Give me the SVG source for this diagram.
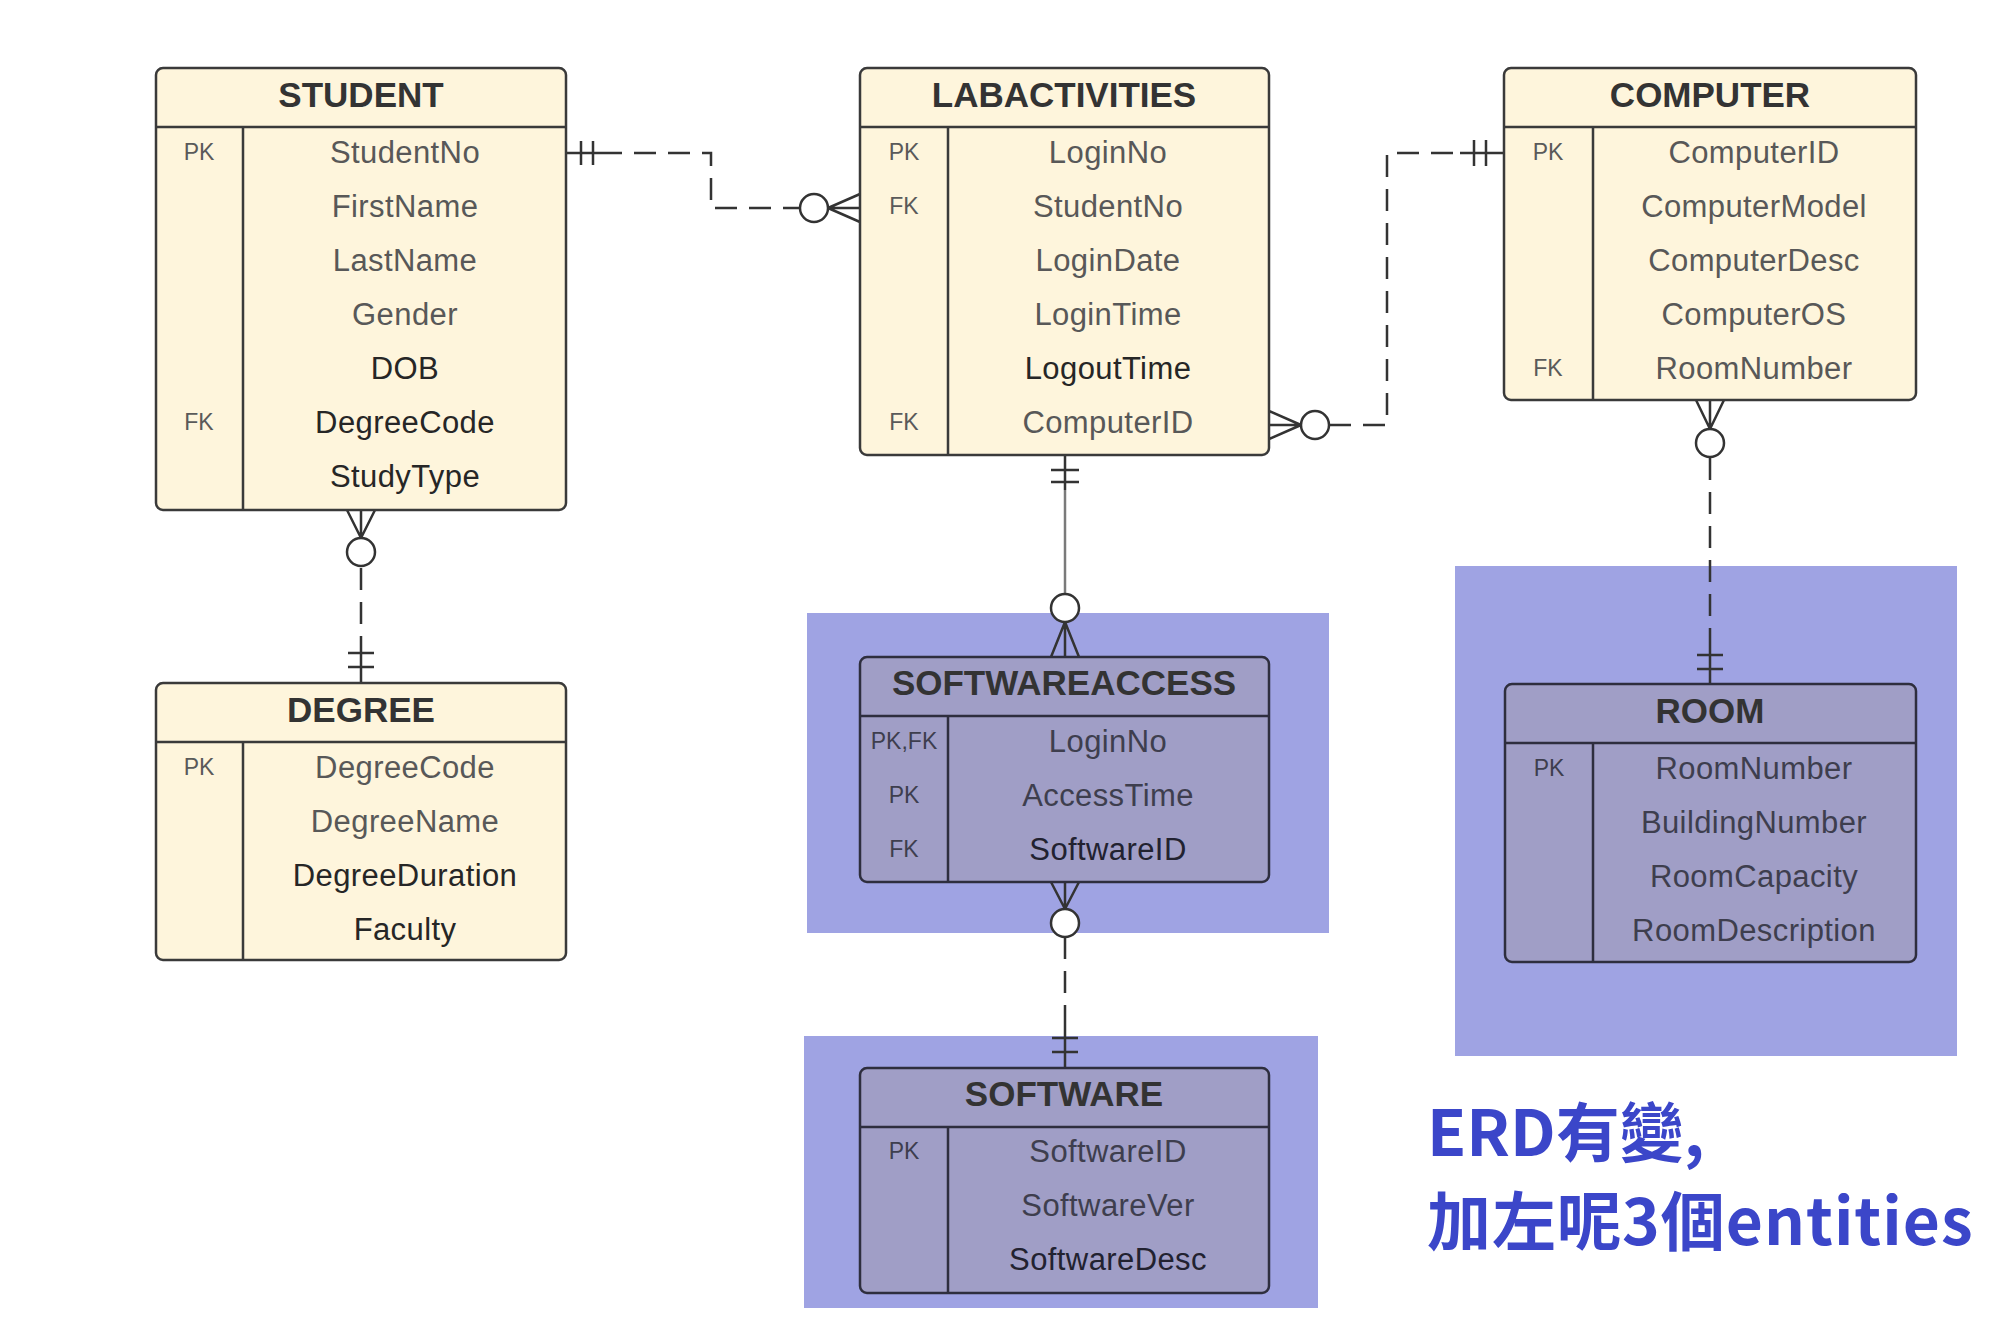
<svg xmlns="http://www.w3.org/2000/svg" width="2000" height="1322" viewBox="0 0 2000 1322">
<style>
.bg{fill:#fff}
.hlr{fill:#9FA3E3}
.box{fill:#FEF5DC;stroke:#3a3a3a;stroke-width:2.5}
.hl .box{fill:#A09EC6;stroke:#2e2e3e}
.sep{stroke:#3a3a3a;stroke-width:2.5;fill:none}
.hl .sep{stroke:#2e2e3e}
.ttl{font-family:"Liberation Sans",Arial,sans-serif;font-weight:bold;font-size:35px;fill:#333;text-anchor:middle;dominant-baseline:central}
.at{font-family:"Liberation Sans",Arial,sans-serif;font-size:31px;letter-spacing:0.4px;fill:#585858;text-anchor:middle;dominant-baseline:central}
.dk{fill:#262626}
.hl .at{fill:#3e3e4e}
.hl .dk{fill:#222230}
.key{font-family:"Liberation Sans",Arial,sans-serif;font-size:23px;fill:#5a5a5a;text-anchor:middle;dominant-baseline:central}
.hl .key{fill:#3e3e4e}
.ln{fill:none;stroke:#333;stroke-width:2.5}
.dash{stroke-dasharray:22 12}
.grey{stroke:#7a7a7a}
.circ{fill:#fff;stroke:#333;stroke-width:2.5}
.note{font-family:"Noto Sans CJK TC","Noto Sans",sans-serif;font-weight:bold;font-size:64px;fill:#3B46C9}
</style>
<rect class="bg" x="0" y="0" width="2000" height="1322"/>
<g id="highlights">
<rect class="hlr" x="807" y="613" width="522" height="320"/>
<rect class="hlr" x="804" y="1036" width="514" height="272"/>
<rect class="hlr" x="1455" y="566" width="502" height="490"/>
</g>
<g id="connectors">
<!-- STUDENT - LABACTIVITIES -->
<path class="ln" d="M566,153 H600"/>
<path class="ln dash" d="M600,153 H711 V208 H800"/>
<path class="ln" d="M800,208 H828"/>
<path class="ln" d="M581,141 V165 M593,141 V165"/>
<path class="ln" d="M828,208 L860,194 M828,208 L860,208 M828,208 L860,222"/>
<circle class="circ" cx="814" cy="208" r="14"/>
<!-- STUDENT - DEGREE -->
<path class="ln" d="M361,538 L347,510 M361,538 L361,510 M361,538 L375,510"/>
<path class="ln dash" d="M361,568 V640"/>
<path class="ln" d="M361,640 V683 M348,653 H374 M348,667 H374"/>
<circle class="circ" cx="361" cy="552" r="14"/>
<!-- LABACTIVITIES - COMPUTER -->
<path class="ln" d="M1301,425 L1269,411 M1301,425 L1269,425 M1301,425 L1269,439"/>
<path class="ln dash" d="M1329,425 H1387 V153 H1460"/>
<path class="ln" d="M1460,153 H1504 M1474,140 V166 M1486,140 V166"/>
<circle class="circ" cx="1315" cy="425" r="14"/>
<!-- LABACTIVITIES - SOFTWAREACCESS -->
<path class="ln" d="M1065,455 V490 M1051,470 H1079 M1051,482 H1079"/>
<path class="ln grey" d="M1065,490 V594"/>
<path class="ln" d="M1065,622 L1051,657 M1065,622 L1065,657 M1065,622 L1079,657"/>
<circle class="circ" cx="1065" cy="608" r="14"/>
<!-- SOFTWAREACCESS - SOFTWARE -->
<path class="ln" d="M1065,909 L1051,882 M1065,909 L1065,882 M1065,909 L1079,882"/>
<path class="ln dash" d="M1065,937 V1026"/>
<path class="ln" d="M1065,1026 V1068 M1052,1038 H1078 M1052,1052 H1078"/>
<circle class="circ" cx="1065" cy="923" r="14"/>
<!-- COMPUTER - ROOM -->
<path class="ln" d="M1710,429 L1696,400 M1710,429 L1710,400 M1710,429 L1724,400"/>
<path class="ln dash" d="M1710,458 V642"/>
<path class="ln" d="M1710,642 V684 M1697,655 H1723 M1697,669 H1723"/>
<circle class="circ" cx="1710" cy="443" r="14"/>
</g>
<g id="student">
<rect class="box" x="156" y="68" width="410" height="442" rx="7"/>
<path class="sep" d="M156,127 H566 M243,127 V510"/>
<text class="ttl" x="361" y="94">STUDENT</text>
<text class="key" x="199" y="152">PK</text>
<text class="key" x="199" y="422">FK</text>
<text class="at" x="405" y="152">StudentNo</text>
<text class="at" x="405" y="206">FirstName</text>
<text class="at" x="405" y="260">LastName</text>
<text class="at" x="405" y="314">Gender</text>
<text class="at dk" x="405" y="368">DOB</text>
<text class="at dk" x="405" y="422">DegreeCode</text>
<text class="at dk" x="405" y="476">StudyType</text>
</g>
<g id="labactivities">
<rect class="box" x="860" y="68" width="409" height="387" rx="7"/>
<path class="sep" d="M860,127 H1269 M948,127 V455"/>
<text class="ttl" x="1064" y="94">LABACTIVITIES</text>
<text class="key" x="904" y="152">PK</text>
<text class="key" x="904" y="206">FK</text>
<text class="key" x="904" y="422">FK</text>
<text class="at" x="1108" y="152">LoginNo</text>
<text class="at" x="1108" y="206">StudentNo</text>
<text class="at" x="1108" y="260">LoginDate</text>
<text class="at" x="1108" y="314">LoginTime</text>
<text class="at dk" x="1108" y="368">LogoutTime</text>
<text class="at" x="1108" y="422">ComputerID</text>
</g>
<g id="computer">
<rect class="box" x="1504" y="68" width="412" height="332" rx="7"/>
<path class="sep" d="M1504,127 H1916 M1593,127 V400"/>
<text class="ttl" x="1710" y="94">COMPUTER</text>
<text class="key" x="1548" y="152">PK</text>
<text class="key" x="1548" y="368">FK</text>
<text class="at" x="1754" y="152">ComputerID</text>
<text class="at" x="1754" y="206">ComputerModel</text>
<text class="at" x="1754" y="260">ComputerDesc</text>
<text class="at" x="1754" y="314">ComputerOS</text>
<text class="at" x="1754" y="368">RoomNumber</text>
</g>
<g id="degree">
<rect class="box" x="156" y="683" width="410" height="277" rx="7"/>
<path class="sep" d="M156,742 H566 M243,742 V960"/>
<text class="ttl" x="361" y="709">DEGREE</text>
<text class="key" x="199" y="767">PK</text>
<text class="at" x="405" y="767">DegreeCode</text>
<text class="at" x="405" y="821">DegreeName</text>
<text class="at dk" x="405" y="875">DegreeDuration</text>
<text class="at dk" x="405" y="929">Faculty</text>
</g>
<g id="softwareaccess" class="hl">
<rect class="box" x="860" y="657" width="409" height="225" rx="7"/>
<path class="sep" d="M860,716 H1269 M948,716 V882"/>
<text class="ttl" x="1064" y="682">SOFTWAREACCESS</text>
<text class="key" x="904" y="741">PK,FK</text>
<text class="key" x="904" y="795">PK</text>
<text class="key" x="904" y="849">FK</text>
<text class="at" x="1108" y="741">LoginNo</text>
<text class="at" x="1108" y="795">AccessTime</text>
<text class="at dk" x="1108" y="849">SoftwareID</text>
</g>
<g id="software" class="hl">
<rect class="box" x="860" y="1068" width="409" height="225" rx="7"/>
<path class="sep" d="M860,1127 H1269 M948,1127 V1293"/>
<text class="ttl" x="1064" y="1093">SOFTWARE</text>
<text class="key" x="904" y="1151">PK</text>
<text class="at" x="1108" y="1151">SoftwareID</text>
<text class="at" x="1108" y="1205">SoftwareVer</text>
<text class="at dk" x="1108" y="1259">SoftwareDesc</text>
</g>
<g id="room" class="hl">
<rect class="box" x="1505" y="684" width="411" height="278" rx="7"/>
<path class="sep" d="M1505,743 H1916 M1593,743 V962"/>
<text class="ttl" x="1710" y="710">ROOM</text>
<text class="key" x="1549" y="768">PK</text>
<text class="at" x="1754" y="768">RoomNumber</text>
<text class="at" x="1754" y="822">BuildingNumber</text>
<text class="at" x="1754" y="876">RoomCapacity</text>
<text class="at" x="1754" y="930">RoomDescription</text>
</g>
<g id="note">
<text class="note" x="1427" y="1156">ERD有變,</text>
<text class="note" x="1427" y="1245" letter-spacing="1">加左呢3個entities</text>
</g>
</svg>
